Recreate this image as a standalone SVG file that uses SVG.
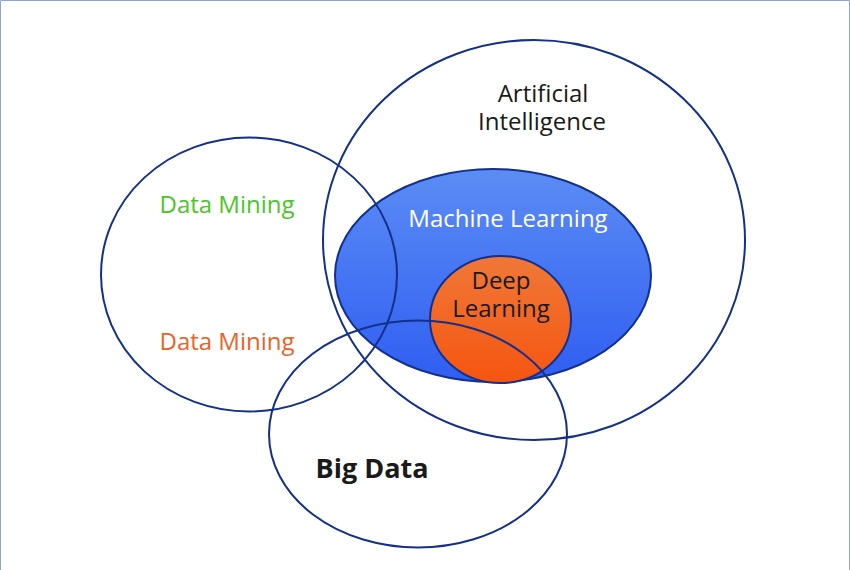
<svg xmlns="http://www.w3.org/2000/svg" width="850" height="570" viewBox="0 0 850 570">
<defs>
<linearGradient id="gML" x1="0" y1="0" x2="0" y2="1">
<stop offset="0" stop-color="#5c8cf4"/>
<stop offset="1" stop-color="#2f5ef2"/>
</linearGradient>
<linearGradient id="gDL" x1="0" y1="0" x2="0" y2="1">
<stop offset="0" stop-color="#f07838"/>
<stop offset="1" stop-color="#f55510"/>
</linearGradient>
</defs>
<style>
.ring{fill:none;stroke:#13308a;stroke-width:2}
.t{font-family:"Open Sans","Noto Sans",sans-serif;font-size:24px;text-anchor:middle}
.b{font-weight:bold;font-size:27px}
</style>
<rect x="0" y="0" width="850" height="570" fill="#ffffff"/>
<path d="M0.5,570 V0.5 H849.5 V570" fill="none" stroke="#8aa8dc" stroke-width="1"/>
<g id="machine-learning">
<ellipse cx="493" cy="275.5" rx="158" ry="106.5" fill="url(#gML)" stroke="#13308a" stroke-width="2"/>
<text class="t" x="508" y="227" fill="#ffffff">Machine Learning</text>
</g>
<g id="deep-learning">
<ellipse cx="500.5" cy="319.5" rx="70.5" ry="63.5" fill="url(#gDL)" stroke="#13308a" stroke-width="2"/>
<text class="t" x="501" y="289" fill="#1a1a1a">Deep<tspan x="501" dy="28">Learning</tspan></text>
</g>
<g id="artificial-intelligence">
<ellipse class="ring" cx="534" cy="240" rx="211" ry="200"/>
<text class="t" x="543" y="102" fill="#1a1a1a">Artificial<tspan x="542" dy="28">Intelligence</tspan></text>
</g>
<g id="data-mining">
<ellipse class="ring" cx="249" cy="274.5" rx="148" ry="137"/>
<text class="t" x="227" y="213" fill="#4cc52a">Data Mining</text>
<text class="t" x="227" y="350" fill="#e8642a">Data Mining</text>
</g>
<g id="big-data">
<ellipse class="ring" cx="418" cy="434" rx="149" ry="113.5"/>
<text class="t b" x="372" y="478" fill="#1a1a1a">Big Data</text>
</g>
<g id="connectors"></g>
</svg>
